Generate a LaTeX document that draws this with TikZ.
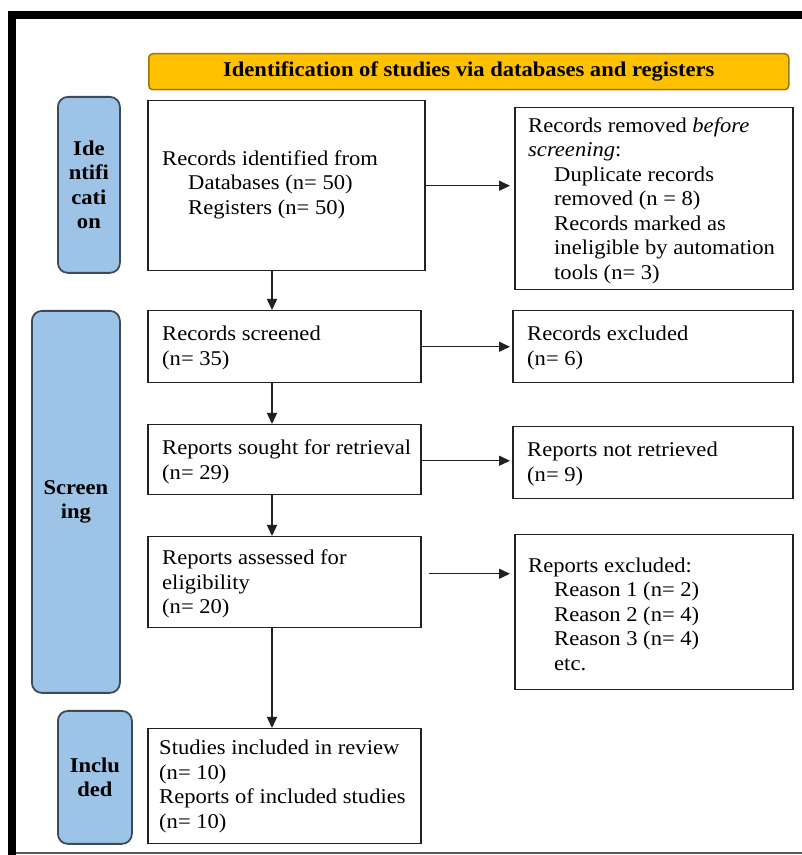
\documentclass[tikz,border=0pt]{standalone}
\usepackage{fontspec}
\setmainfont{Liberation Serif}[FakeStretch=1.075]
\usetikzlibrary{arrows.meta}
\definecolor{hdrfill}{HTML}{FFC000}
\definecolor{hdrline}{HTML}{9C7A00}
\definecolor{sidefill}{HTML}{9DC3E6}
\definecolor{sideline}{HTML}{3E4A58}
\definecolor{boxline}{HTML}{222222}
\tikzset{
  box/.style={draw=boxline, line width=1.5pt, rectangle, anchor=north west, inner sep=0pt},
  txt/.style={anchor=west, align=left, inner sep=0pt, font=\fontsize{21}{24.5}\selectfont},
  side/.style={draw=sideline, fill=sidefill, line width=1.8pt, rounded corners=10pt, anchor=north west,
    align=center, inner sep=0pt, font=\fontsize{21}{24.5}\selectfont\bfseries},
  hdr/.style={draw=hdrline, fill=hdrfill, line width=1.5pt, rounded corners=4pt, anchor=north west,
    inner sep=0pt, font=\fontsize{21}{24.5}\selectfont\bfseries},
  arr/.style={line width=1.5pt, draw=boxline, -{Triangle[length=11pt,width=10pt]}},
}
\newcommand{\ind}{\hspace*{26pt}}
\begin{document}
\begin{tikzpicture}[x=1pt,y=1pt]
\useasboundingbox (0,0) rectangle (802,855);
% frame
\draw[line width=8pt, line join=miter] (12,0) -- (12,840) -- (802,840);
\draw[line width=2pt, draw=black!65] (16,2) -- (802,2);
% header
\node[hdr, minimum width=640, minimum height=36] (hdr) at (148,802) {Identification of studies via databases and registers};
% side labels
\node[side, minimum width=62, minimum height=176] (sid) at (57,759) {Ide\\ntifi\\cati\\on};
\node[side, minimum width=88, minimum height=382] (sscr) at (31,545) {Screen\\ing};
\node[side, minimum width=74, minimum height=133] (sinc) at (57,145) {Inclu\\ded};
% boxes
\node[box, minimum width=277, minimum height=170] (a) at (147,755) {};
\node[box, minimum width=278, minimum height=182] (b) at (514,748) {};
\node[box, minimum width=273, minimum height=72] (c) at (147,545) {};
\node[box, minimum width=280, minimum height=72] (d) at (512,545) {};
\node[box, minimum width=273, minimum height=70] (e) at (147,431) {};
\node[box, minimum width=280, minimum height=72] (f) at (512,429) {};
\node[box, minimum width=273, minimum height=91] (g) at (147,319) {};
\node[box, minimum width=278, minimum height=155] (h) at (514,321) {};
\node[box, minimum width=273, minimum height=115] (i) at (147,127) {};
% texts
\node[txt] (ta) at ([xshift=15pt,yshift=1pt]a.west) {Records identified from\\\ind Databases (n= 50)\\\ind Registers (n= 50)};
\node[txt] (tb) at ([xshift=14pt,yshift=-2pt]b.west) {Records removed \textit{before}\\\textit{screening}:\\\ind Duplicate records\\\ind removed (n = 8)\\\ind Records marked as\\\ind ineligible by automation\\\ind tools (n= 3)};
\node[txt] (tc) at ([xshift=15pt,yshift=-1pt]c.west) {Records screened\\(n= 35)};
\node[txt] (td) at ([xshift=15pt,yshift=-1pt]d.west) {Records excluded\\(n= 6)};
\node[txt] (te) at ([xshift=15pt,yshift=-2pt]e.west) {Reports sought for retrieval\\(n= 29)};
\node[txt] (tf) at ([xshift=15pt,yshift=-1pt]f.west) {Reports not retrieved\\(n= 9)};
\node[txt] (tg) at ([xshift=15pt,yshift=-2pt]g.west) {Reports assessed for\\eligibility\\(n= 20)};
\node[txt] (th) at ([xshift=14pt,yshift=-2pt]h.west) {Reports excluded:\\\ind Reason 1 (n= 2)\\\ind Reason 2 (n= 4)\\\ind Reason 3 (n= 4)\\\ind etc.};
\node[txt] (ti) at ([xshift=12pt]i.west) {Studies included in review\\(n= 10)\\Reports of included studies\\(n= 10)};
% arrows
\coordinate (vx) at (272,0);
\draw[arr] (a.south -| vx) -- (c.north -| vx);
\draw[arr] (c.south -| vx) -- (e.north -| vx);
\draw[arr] (e.south -| vx) -- (g.north -| vx);
\draw[arr] (g.south -| vx) -- (i.north -| vx);
\draw[arr, shorten >=4pt] (a.east) -- (a.east -| b.west);
\draw[arr, shorten >=2pt] (c.east) -- (c.east -| d.west);
\draw[arr, shorten >=2pt] ([yshift=-1pt]e.east) -- ([yshift=-1pt]e.east -| f.west);
\draw[arr, shorten <=7pt, shorten >=4pt] ([yshift=8.5pt]g.east) -- ([yshift=8.5pt]g.east -| h.west);
\end{tikzpicture}
\end{document}
